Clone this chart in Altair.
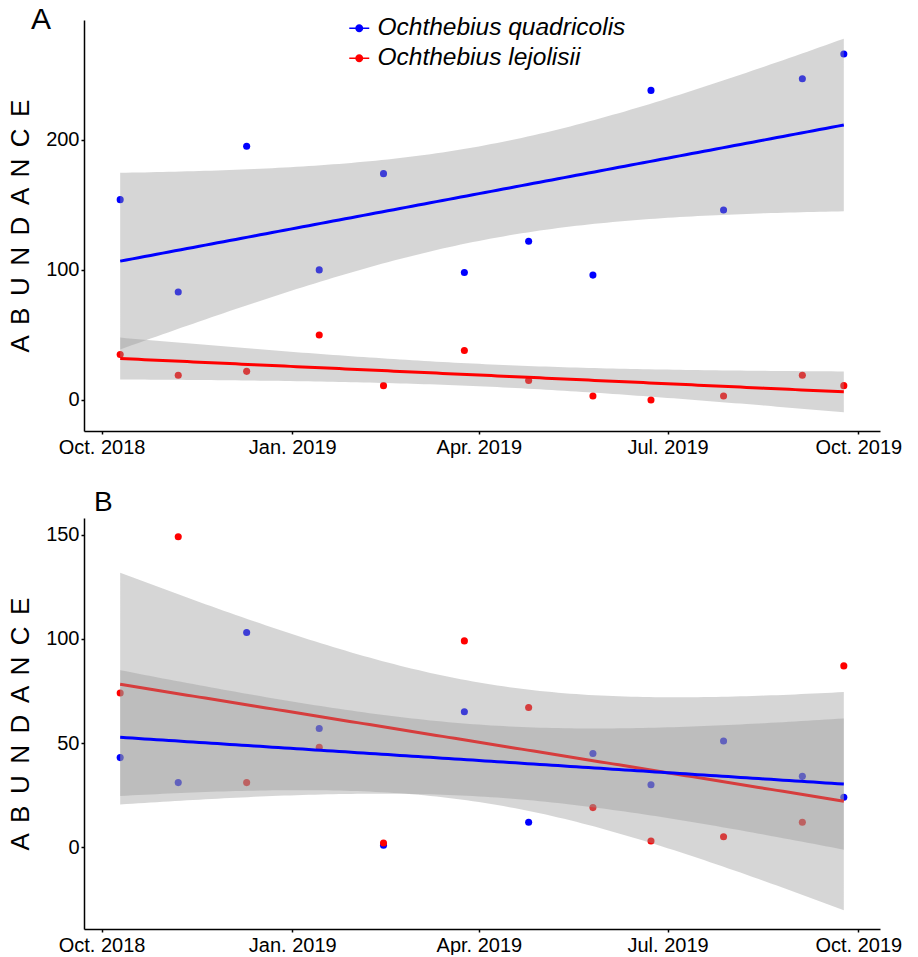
import altair as alt
import numpy as np
import pandas as pd

# ---- data ----
dates = ["2018-10-10", "2018-11-07", "2018-12-10", "2019-01-14", "2019-02-14", "2019-03-25",
         "2019-04-25", "2019-05-26", "2019-06-23", "2019-07-28", "2019-09-04", "2019-09-24"]
a_quadricolis = [154, 83, 195, 100, 174, 98, 122, 96, 238, 146, 247, 266]
a_lejolisii = [35, 19, 22, 50, 11, 38, 15, 3, 0, 3, 19, 11]
b_quadricolis = [43, 31, 103, 57, 1, 65, 12, 45, 30, 51, 34, 24]
b_lejolisii = [74, 149, 31, 48, 2, 99, 67, 19, 3, 5, 12, 87]
species = ["Ochthebius quadricolis", "Ochthebius lejolisii"]
colors = ["#0000FF", "#FF0000"]
x_ticks = ["2018-10-01", "2019-01-01", "2019-04-01", "2019-07-01", "2019-10-01"]
a_yticks = [0, 100, 200]
b_yticks = [0, 50, 100, 150]

FONT = "Liberation Sans"
DAY = 86400000.0
Y_TITLE = " \u2006".join("ABUNDANCE")


def to_ms(lst):
    return [float((pd.Timestamp(d) - pd.Timestamp("1970-01-01")) / pd.Timedelta("1ms")) for d in lst]


xms = to_ms(dates)
tick_ms = to_ms(x_ticks)


def lm_band(xv, yv, n=120):
    x = np.asarray(xv, float) / DAY
    y = np.asarray(yv, float)
    k = len(x)
    xm = x.mean()
    sxx = ((x - xm) ** 2).sum()
    b = ((x - xm) * (y - y.mean())).sum() / sxx
    a = y.mean() - b * xm
    s = np.sqrt(((y - (a + b * x)) ** 2).sum() / (k - 2))
    g = np.linspace(x.min(), x.max(), n)
    fit = a + b * g
    se = s * np.sqrt(1.0 / k + (g - xm) ** 2 / sxx)
    t = 2.228138852  # qt(0.975, df=10)
    return g * DAY, fit, fit - t * se, fit + t * se


LEGEND_PATH = ("M-1,-0.08L1,-0.08L1,0.08L-1,0.08Z "
               "M0.4,0A0.4,0.4 0 1,1 -0.4,0A0.4,0.4 0 1,1 0.4,0Z")


def panel(q, l, label, label_size, label_dx, label_offset, yticks, legend_y):
    pts = pd.DataFrame({
        "date": xms * 2,
        "abundance": q + l,
        "species": [species[0]] * len(q) + [species[1]] * len(l),
    })
    fits = []
    for sp, vals in zip(species, [q, l]):
        gx, fit, lo, hi = lm_band(xms, vals)
        fits.append(pd.DataFrame({"date": gx, "fit": fit, "lo": lo, "hi": hi, "species": sp}))
    fit_df = pd.concat(fits, ignore_index=True)

    ymin = min(min(q + l), fit_df["lo"].min())
    ymax = max(max(q + l), fit_df["hi"].max())
    yr = ymax - ymin
    ydom = [ymin - 0.05 * yr, ymax + 0.05 * yr]
    xr = max(xms) - min(xms)
    xdom = [min(xms) - 0.05 * xr, max(xms) + 0.05 * xr]

    x_enc = alt.X("date:T",
                  scale=alt.Scale(type="utc", domain=xdom, nice=False),
                  axis=alt.Axis(values=tick_ms, labelExpr="utcFormat(datum.value, '%b. %Y')",
                                title=None, grid=False, labelPadding=3))
    y_scale = alt.Scale(domain=ydom, nice=False, zero=False)
    y_axis = alt.Axis(values=yticks, title=Y_TITLE, grid=False,
                      titleFontSize=26, titleFont=FONT, titleFontWeight="normal",
                      titleColor="black", titlePadding=12, labelPadding=2)
    col_scale = alt.Scale(domain=species, range=colors)

    points = alt.Chart(pts).mark_circle(size=50, opacity=1).encode(
        x=x_enc,
        y=alt.Y("abundance:Q", scale=y_scale, axis=y_axis),
        color=alt.Color("species:N", scale=col_scale, sort=species,
                        legend=alt.Legend(orient="none", legendX=263, legendY=legend_y,
                                          title=None, padding=0, labelFont=FONT,
                                          labelFontSize=24.5, labelFontStyle="italic",
                                          labelColor="black", labelLimit=0,
                                          symbolType=LEGEND_PATH,
                                          symbolSize=400, symbolStrokeWidth=0,
                                          symbolOpacity=1, labelOffset=6, rowPadding=5)),
    )
    layers = [points]
    for sp in [species[1], species[0]]:
        sub = fit_df[fit_df["species"] == sp]
        band = alt.Chart(sub).mark_area(color="#999999", opacity=0.4).encode(
            x=alt.X("date:T"), y=alt.Y("lo:Q"), y2="hi:Q")
        line = alt.Chart(sub).mark_line(strokeWidth=3).encode(
            x=alt.X("date:T"), y=alt.Y("fit:Q"),
            color=alt.Color("species:N", scale=col_scale, legend=None))
        layers += [band, line]

    return alt.layer(*layers).properties(
        width=796, height=411,
        title=alt.TitleParams(text=label, anchor="start", frame="group", fontSize=label_size,
                              font=FONT, fontWeight="normal", color="black",
                              baseline="alphabetic", dx=label_dx, offset=label_offset),
    )


pa = panel(a_quadricolis, a_lejolisii, "A", 30, -53, -39, a_yticks, -4)
pb = panel(b_quadricolis, b_lejolisii, "B", 28, 10, -21, b_yticks, -3)

chart = alt.vconcat(pa, pb, spacing=87, bounds="flush").properties(
    padding={"left": 7, "top": 5, "right": 5, "bottom": 0}
).configure_view(stroke=None).configure_axis(
    domainColor="black", domainWidth=1.5, tickColor="black", tickSize=3, tickWidth=1.5,
    labelColor="black", labelFont=FONT, labelFontSize=20,
)

chart.save("out.html", embed_options={"renderer": "svg", "actions": False})
